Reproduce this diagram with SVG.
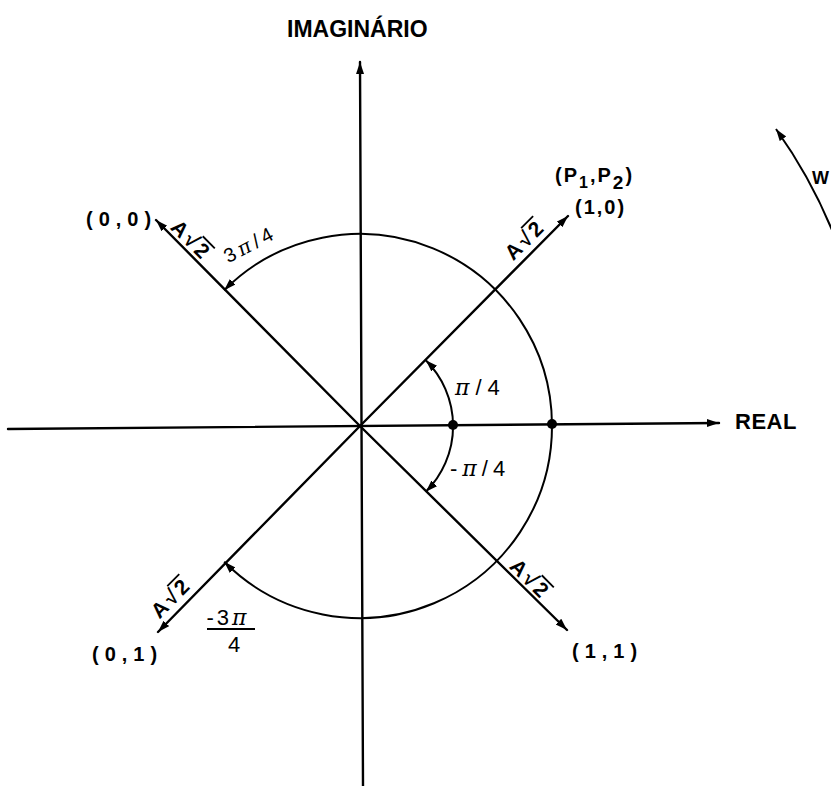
<svg xmlns="http://www.w3.org/2000/svg" width="831" height="786" viewBox="0 0 831 786">
<style>
.ax{stroke:#000;stroke-width:2.4;fill:none;stroke-linecap:round}
.arc{stroke:#000;stroke-width:2;fill:none}
.lbl{font-family:"Liberation Sans",Arial,sans-serif;font-weight:bold;fill:#000}
.ang{font-family:"Liberation Sans",Arial,sans-serif;fill:#000}
.pi{font-family:"DejaVu Serif",serif;font-style:italic}
.bar{stroke:#000;stroke-width:1.8}
.big{font-size:22px}
.crd{font-size:20px;letter-spacing:6px}
.crd2{font-size:20px;letter-spacing:2px}
.rad{font-size:21px;letter-spacing:3px}
</style>
<defs>
<marker id="ah" markerUnits="userSpaceOnUse" markerWidth="14" markerHeight="10" refX="12" refY="4" orient="auto-start-reverse">
<path d="M0,0 L12,4 L0,8 Z" fill="#000"/>
</marker>
</defs>
<rect width="831" height="786" fill="#fff"/>
<g id="connectors">
<line class="ax" x1="8" y1="429" x2="719" y2="423" marker-end="url(#ah)"/>
<line class="ax" x1="363" y1="786" x2="360" y2="62" marker-end="url(#ah)"/>
<line class="ax" x1="360" y1="426" x2="568" y2="216" marker-end="url(#ah)"/>
<line class="ax" x1="360" y1="426" x2="156" y2="220" marker-end="url(#ah)"/>
<line class="ax" x1="360" y1="426" x2="158" y2="632" marker-end="url(#ah)"/>
<line class="ax" x1="360" y1="426" x2="567" y2="630" marker-end="url(#ah)"/>
<path class="arc" d="M552,425 A192,192 0 0 0 224.2,290.2" marker-end="url(#ah)"/>
<path class="arc" d="M552,425 A192,192 0 0 1 224.2,561.8" marker-end="url(#ah)"/>
<path class="arc" d="M425.8,360.2 A93,93 0 0 1 425.8,491.8" marker-start="url(#ah)" marker-end="url(#ah)"/>
<path class="arc" stroke-width="2.6" d="M853.6,294 A511,511 0 0 0 776,129" marker-end="url(#ah)"/>
</g>
<g id="points">
<circle cx="453" cy="425" r="5"/>
<circle cx="552" cy="424" r="5"/>
</g>
<g id="imaginario"><text class="lbl" x="287" y="37" style="font-size:23px">IMAGINÁRIO</text></g>
<g id="real"><text class="lbl" x="735" y="429" style="font-size:22px;letter-spacing:0.5px">REAL</text></g>
<g id="w"><text class="lbl" x="812" y="184" style="font-size:18px">W</text></g>
<g id="p10">
<text class="lbl crd2" x="555" y="182">(P<tspan font-size="16" dy="6">1</tspan><tspan dy="-6">,P</tspan><tspan font-size="19" dy="7">2</tspan><tspan dy="-7">)</tspan></text>
<text class="lbl crd2" x="575" y="214">(1,0)</text>
</g>
<g id="p00"><text class="lbl crd" x="86" y="226">(0,0)</text></g>
<g id="p01"><text class="lbl crd" x="92" y="661">(0,1)</text></g>
<g id="p11"><text class="lbl crd" x="572" y="658">(1,1)</text></g>
<g id="r1" transform="translate(519,267) rotate(-45)"><text class="lbl rad" x="0" y="-8">A√2</text><line class="bar" x1="29" y1="-26" x2="46" y2="-26"/></g>
<g id="r2" transform="translate(166,232) rotate(45)"><text class="lbl rad" x="0" y="-5">A√2</text><line class="bar" x1="29" y1="-23" x2="46" y2="-23"/></g>
<g id="r3" transform="translate(163,623) rotate(-45)"><text class="lbl rad" x="0" y="-5">A√2</text><line class="bar" x1="29" y1="-23" x2="46" y2="-23"/></g>
<g id="r4" transform="translate(505,571) rotate(45)"><text class="lbl rad" x="0" y="-5">A√2</text><line class="bar" x1="29" y1="-23" x2="46" y2="-23"/></g>
<g id="a34"><text class="ang" transform="translate(250,244) rotate(-28)" text-anchor="middle" y="7" style="font-size:20px;letter-spacing:4px">3<tspan class="pi">π</tspan>/4</text></g>
<g id="a14"><text class="ang big" x="455" y="395" style="letter-spacing:6px"><tspan class="pi">π</tspan>/4</text></g>
<g id="am14"><text class="ang big" x="450" y="476" style="letter-spacing:5px">-<tspan class="pi">π</tspan>/4</text></g>
<g id="am34">
<text class="ang big" x="228" y="625" text-anchor="middle" style="letter-spacing:3px">-3<tspan class="pi">π</tspan></text>
<line class="bar" x1="207" y1="629" x2="255" y2="629"/>
<text class="ang big" x="234" y="652" text-anchor="middle">4</text>
</g>
</svg>
